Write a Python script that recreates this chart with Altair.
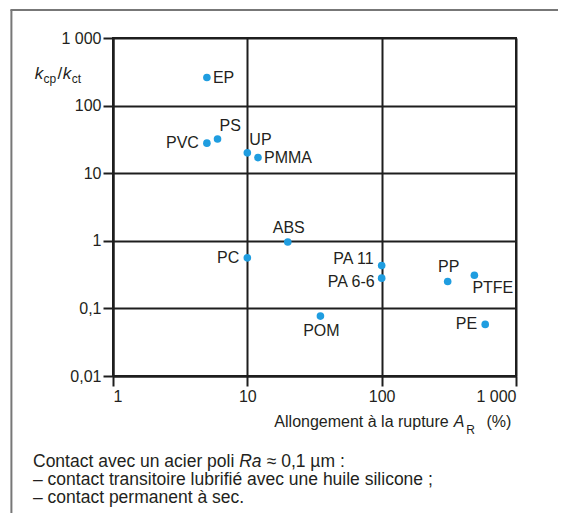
import altair as alt
import pandas as pd

# ---- data ----
materials = ["EP", "PVC", "PS", "UP", "PMMA", "ABS", "PC", "PA 11", "PA 6-6", "PP", "PTFE", "POM", "PE"]
elongation = [5, 5, 6, 10, 12, 20, 10, 100, 100, 310, 490, 35, 590]
ratio = [260, 27.8, 32, 20, 17, 0.96, 0.56, 0.43, 0.28, 0.25, 0.31, 0.077, 0.058]
placement = ["right", "left", "upright", "upright", "right", "above", "left",
             "upleft", "downleft", "above", "downright", "below", "left"]
x_ticks = [1, 10, 100, 1000]
y_ticks = [0.01, 0.1, 1, 10, 100, 1000]
caption = [
    "Contact avec un acier poli",
    "Ra",
    "\u2248 0,1 \u00b5m :",
    "\u2013 contact transitoire lubrifi\u00e9 avec une huile silicone ;",
    "\u2013 contact permanent \u00e0 sec.",
]

df = pd.DataFrame({"mat": materials, "AR": elongation, "k": ratio, "pos": placement})
one = pd.DataFrame({"a": [0]})

FONT = "Liberation Sans"
TXT = "#231f20"
LINE = "#1e1e1e"
BLUE = "#1f9de0"
FS = 16
CFS = 17.5

W, H = 403, 338

xscale = alt.Scale(type="log", domain=[1, 1000], nice=False)
yscale = alt.Scale(type="log", domain=[0.01, 1000], nice=False)
lab = "replace(replace(format(datum.value, ','), ',', ' '), '.', ',')"

points = alt.Chart(df).mark_circle(size=58, color=BLUE, opacity=1).encode(
    x=alt.X("AR:Q", scale=xscale,
            axis=alt.Axis(values=x_ticks, title=None, labelExpr=lab, tickSize=10,
                          labelPadding=2, grid=True)),
    y=alt.Y("k:Q", scale=yscale,
            axis=alt.Axis(values=y_ticks, title=None, labelExpr=lab, tickSize=10,
                          labelPadding=2, grid=True)),
)

place = {
    "right": ("left", 6, 0),
    "left": ("right", -8, 0),
    "above": ("center", 1, -14),
    "below": ("center", 1, 15),
    "upright": ("left", 2, -13),
    "downright": ("left", -2, 13),
    "upleft": ("right", -8, -7),
    "downleft": ("right", -7, 4),
}

label_layers = []
for name, (align, dx, dy) in place.items():
    label_layers.append(
        alt.Chart(df).transform_filter(alt.datum.pos == name).mark_text(
            align=align, baseline="middle", dx=dx, dy=dy, font=FONT, fontSize=FS, color=TXT
        ).encode(x=alt.X("AR:Q", scale=xscale), y=alt.Y("k:Q", scale=yscale), text="mat:N")
    )


def note(txt, x, y, size=FS, style="normal", align="left", baseline="alphabetic"):
    return alt.Chart(one).mark_text(
        text=txt, align=align, baseline=baseline, fontSize=size, fontStyle=style,
        font=FONT, color=TXT
    ).encode(x=alt.value(x), y=alt.value(y))


notes = [
    # y-axis title k_cp / k_ct
    note("k", -78.3, 40.7, size=17, style="italic"),
    note("cp", -69.5, 44.7, size=12),
    note("/", -55.5, 40.7, size=17),
    note("k", -50.3, 40.7, size=17, style="italic"),
    note("ct", -41.3, 44.7, size=12),
    # x-axis title
    note("Allongement \u00e0 la rupture", 335.7, 389.4, align="right"),
    note("A", 340.7, 389.4, style="italic"),
    note("R", 353.2, 396.0, size=12),
    note("(%)", 373.4, 389.4),
    # caption
    note(caption[0], -80, 428.7, size=CFS),
    note(caption[1], 126.2, 428.7, size=CFS, style="italic"),
    note(caption[2], 153.7, 428.7, size=CFS),
    note(caption[3], -80, 447.0, size=CFS),
    note(caption[4], -80, 465.3, size=CFS),
]

frame = [
    alt.Chart(one).mark_rule(color="#777777", strokeWidth=2).encode(
        x=alt.value(-101.6), y=alt.value(-28), y2=alt.value(480)),
    alt.Chart(one).mark_rule(color="#777777", strokeWidth=2).encode(
        x=alt.value(-102.6), x2=alt.value(450), y=alt.value(-28)),
]

chart = alt.layer(*frame, points, *label_layers, *notes).properties(
    width=W, height=H,
    autosize=alt.AutoSizeParams(type="none"),
    padding={"left": 105, "top": 30, "right": 42, "bottom": 137},
).configure_view(stroke=LINE, strokeWidth=2).configure_axis(
    gridColor=LINE, gridWidth=2, gridOpacity=1,
    domainColor=LINE, domainWidth=2,
    tickColor=LINE, tickWidth=2,
    labelFont=FONT, labelFontSize=FS, labelColor=TXT,
)

chart.save("out.html", embed_options={"renderer": "svg", "actions": False})
